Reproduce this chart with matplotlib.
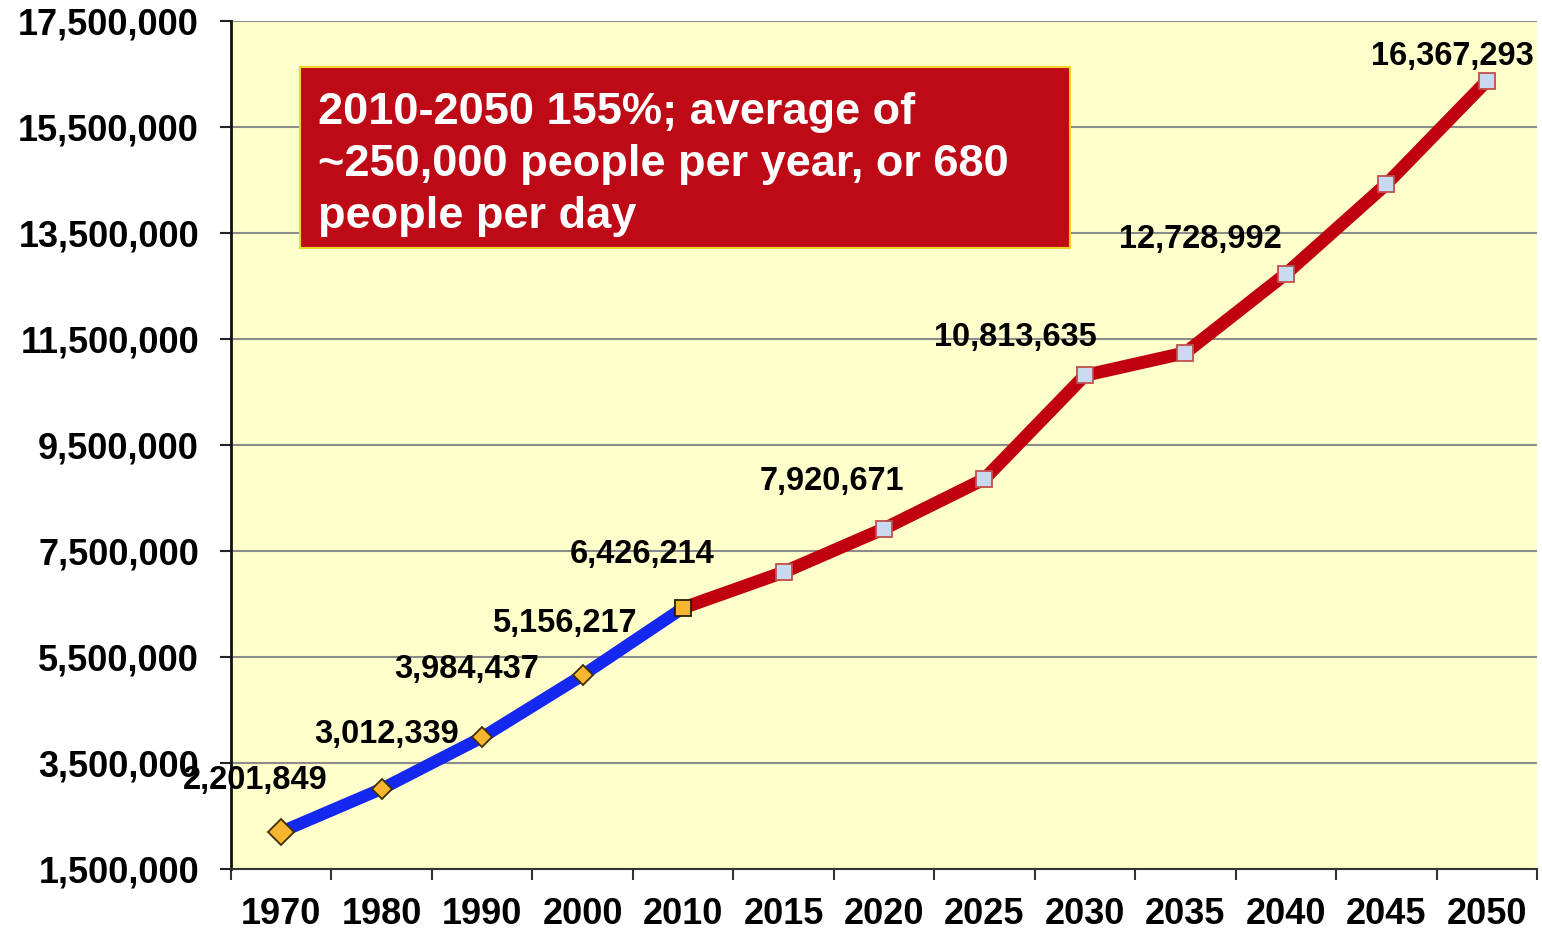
import matplotlib
matplotlib.use('Agg')
import matplotlib.pyplot as plt
from matplotlib.patches import Rectangle
from matplotlib.ticker import FuncFormatter, FixedLocator

plt.rcParams['font.family'] = ['Liberation Sans', 'DejaVu Sans']
plt.rcParams['font.weight'] = 'bold'

# population by year; 2015/2025/2035/2045 have no printed value
years = ['1970', '1980', '1990', '2000', '2010', '2015', '2020',
         '2025', '2030', '2035', '2040', '2045', '2050']
population = [2201849, 3012339, 3984437, 5156217, 6426214, 7100000, 7920671,
              8860000, 10813635, 11240000, 12728992, 14420000, 16367293]
labelled = [0, 1, 2, 3, 4, 6, 8, 10, 12]
label_offsets = {0: (-26, 51), 1: (5, 54), 2: (-16, 68), 3: (-18, 52),
                 4: (-41, 53), 6: (-52, 47), 8: (-70, 38), 10: (-85, 34),
                 12: (-34, 25)}
n_hist = 5   # 1970-2010 are census, the rest projections
note = '2010-2050 155%; average of\n~250,000 people per year, or 680\npeople per day'

fig = plt.figure(figsize=(15.42, 9.31), dpi=100)
ax = fig.add_axes([231 / 1542, 62 / 931, 1306 / 1542, 848 / 931])
ax.set_facecolor('#FFFFCC')

x = list(range(len(years)))

ax.plot(x[:n_hist], population[:n_hist], color='#1428F0', lw=8.8,
        solid_capstyle='butt', zorder=3)
ax.plot(x[n_hist - 1:], population[n_hist - 1:], color='#C0000E', lw=9.3,
        solid_capstyle='butt', zorder=3)

# markers
ax.plot(x[0], population[0], 'D', ms=13.5, mfc='#F8B530', mec='#3A3000',
        mew=1.3, zorder=4)
ax.plot(x[1:n_hist - 1], population[1:n_hist - 1], 'D', ms=10, mfc='#F8B530',
        mec='#3A3000', mew=1.3, ls='none', zorder=4)
ax.plot(x[n_hist - 1], population[n_hist - 1], 's', ms=11, mfc='#F8B530',
        mec='#222200', mew=1.3, zorder=4)
ax.plot(x[n_hist:], population[n_hist:], 's', ms=11, mfc='#C9D9F0',
        mec='#C0504D', mew=1.3, ls='none', zorder=4)

for i in labelled:
    ax.annotate(f'{population[i]:,}', xy=(i, population[i]),
                xytext=label_offsets[i], textcoords='offset pixels',
                ha='center', va='center', fontsize=23.5, fontweight='bold',
                color='black', zorder=5)

# axes and grid
ax.set_xlim(-0.5, len(years) - 0.5)
ax.set_ylim(1500000, 17500000)
ax.set_yticks(range(1500000, 17500001, 2000000))
ax.yaxis.set_major_formatter(FuncFormatter(lambda v, p: f'{int(v):,}'))
ax.set_xticks(x)
ax.set_xticklabels(years)
ax.xaxis.set_minor_locator(FixedLocator([i - 0.5 for i in range(len(years) + 1)]))
ax.tick_params(axis='x', which='major', length=0, pad=20, labelsize=26)
ax.tick_params(axis='x', which='minor', length=8, width=1.5, color='#333333')
ax.tick_params(axis='y', length=8, width=1.5, pad=15, labelsize=26,
               color='#222222')
for lab in ax.get_xticklabels() + ax.get_yticklabels():
    lab.set_fontweight('bold')

ax.grid(axis='y', color='#8C8C8C', lw=1.5)
ax.set_axisbelow(True)
ax.spines['top'].set_visible(False)
ax.spines['right'].set_visible(False)
ax.spines['left'].set_linewidth(2)
ax.spines['left'].set_color('#111111')
ax.spines['bottom'].set_linewidth(1.5)
ax.spines['bottom'].set_color('#333333')

# callout box
ax.add_patch(Rectangle((0.0528, 0.7323), 0.5896, 0.2135, transform=ax.transAxes,
                       facecolor='#BD0A16', edgecolor='#F2D22E', lw=1.5,
                       zorder=6))
ax.text(0.0666, 0.831, note, transform=ax.transAxes, ha='left', va='center',
        fontsize=32.5, fontweight='bold', color='white', linespacing=1.34,
        zorder=7)

fig.savefig('out.png', dpi=100)
